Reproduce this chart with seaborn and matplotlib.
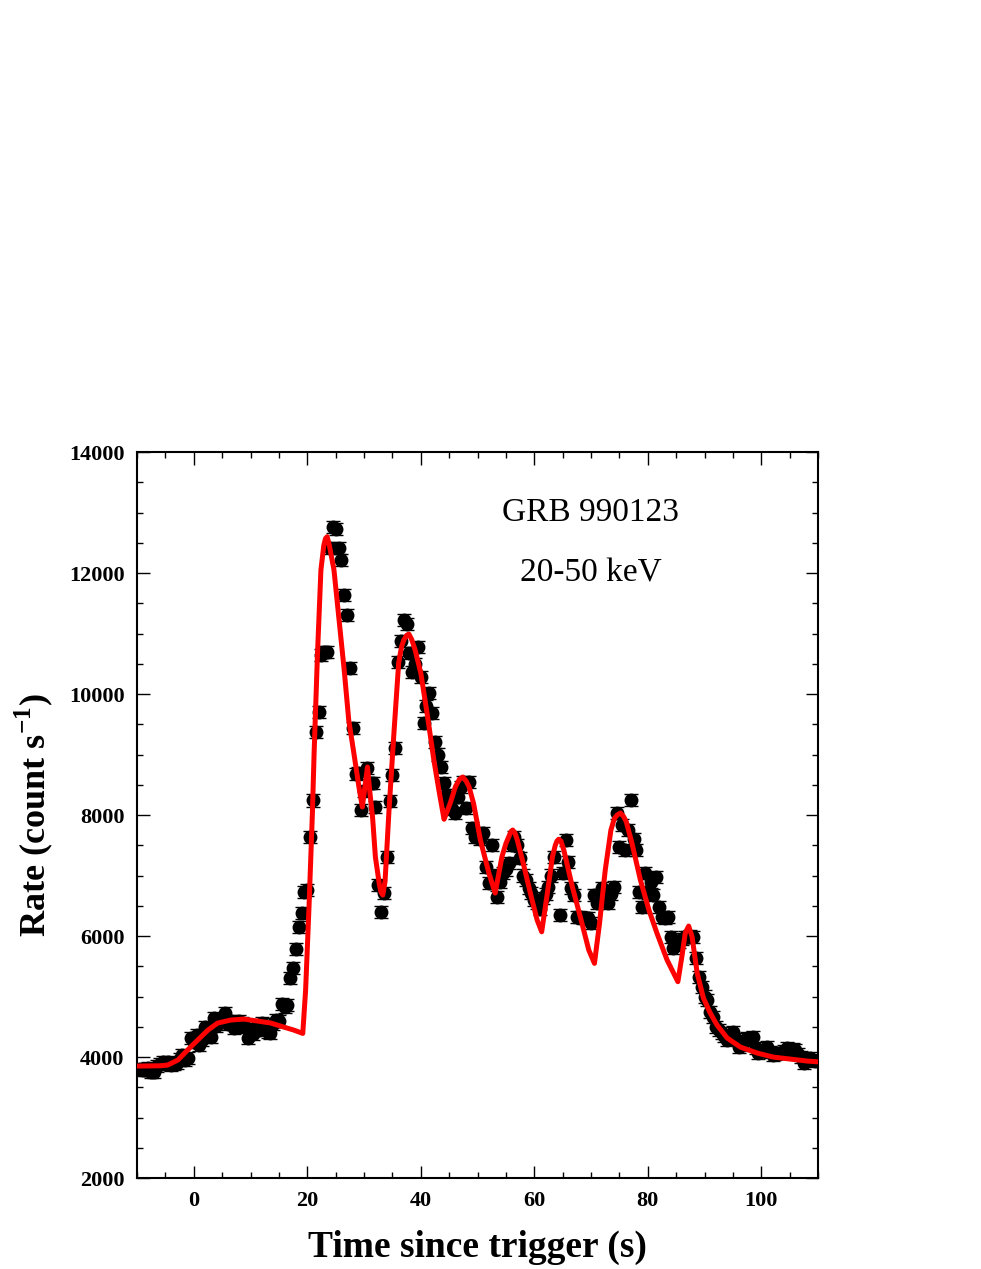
import matplotlib
matplotlib.use("Agg")
import matplotlib.pyplot as plt
import seaborn as sns
import pandas as pd
from matplotlib.ticker import MultipleLocator

# ---------------- data ----------------
TIME_S = [-9.5, -9.0, -8.5, -8.0, -7.5, -7.0, -6.5, -6.0, -5.5, -5.0, -4.5, -4.0, -3.5, -3.0,
          -2.5, -2.0, -1.5, -1.0, -0.5, 0.0, 0.5, 1.0, 1.5, 2.0, 2.5, 3.0, 3.5, 4.0, 4.5, 5.0,
          5.5, 6.0, 6.5, 7.0, 7.5, 8.0, 8.5, 9.0, 9.5, 10.0, 10.5, 11.0, 11.5, 12.0, 12.5, 13.0,
          13.5, 14.0, 14.5, 15.0, 15.5, 16.0, 16.5, 17.0, 17.5, 18.0, 18.5, 19.0, 19.5, 20.0,
          20.5, 21.0, 21.5, 22.0, 22.5, 23.0, 23.5, 24.0, 24.5, 25.0, 25.5, 26.0, 26.5, 27.0,
          27.5, 28.0, 28.5, 29.0, 29.5, 30.0, 30.5, 31.0, 31.5, 32.0, 32.5, 33.0, 33.5, 34.0,
          34.5, 35.0, 35.5, 36.0, 36.5, 37.0, 37.5, 38.0, 38.5, 39.0, 39.5, 40.0, 40.5, 41.0,
          41.5, 42.0, 42.5, 43.0, 43.5, 44.0, 44.5, 45.0, 45.5, 46.0, 46.5, 47.0, 47.5, 48.0,
          48.5, 49.0, 49.5, 50.0, 50.5, 51.0, 51.5, 52.0, 52.5, 53.0, 53.5, 54.0, 54.5, 55.0,
          55.5, 56.0, 56.5, 57.0, 57.5, 58.0, 58.5, 59.0, 59.5, 60.0, 60.5, 61.0, 61.5, 62.0,
          62.5, 63.0, 63.5, 64.5, 65.0, 65.5, 66.0, 66.5, 67.0, 67.5, 68.0, 68.5, 69.0, 69.5,
          70.0, 70.5, 71.0, 71.5, 72.0, 72.5, 73.0, 73.5, 74.0, 74.5, 75.0, 75.5, 76.0, 76.5,
          77.0, 77.5, 78.0, 78.5, 79.0, 79.5, 80.0, 80.5, 81.0, 81.5, 82.0, 82.5, 83.0, 83.5,
          84.0, 84.5, 85.0, 85.5, 86.0, 86.5, 87.0, 87.5, 88.0, 88.5, 89.0, 89.5, 90.0, 90.5,
          91.0, 91.5, 92.0, 92.5, 93.0, 93.5, 94.0, 94.5, 95.0, 95.5, 96.0, 96.5, 97.0, 97.5,
          98.0, 98.5, 99.0, 99.5, 100.0, 100.5, 101.0, 101.5, 102.0, 102.5, 103.0, 103.5, 104.0,
          104.5, 105.0, 105.5, 106.0, 106.5, 107.0, 107.5, 108.0, 108.5, 109.0, 109.5]

RATE = [3800, 3780, 3790, 3820, 3760, 3750, 3850, 3880, 3910, 3890, 3920, 3870, 3880, 3900,
        3960, 4030, 3950, 3980, 4310, 4250, 4360, 4200, 4280, 4490, 4400, 4330, 4640, 4520,
        4610, 4580, 4720, 4550, 4600, 4480, 4520, 4600, 4560, 4500, 4310, 4420, 4380, 4500,
        4450, 4560, 4520, 4420, 4400, 4540, 4610, 4600, 4880, 4820, 4860, 5300, 5470, 5780,
        6150, 6380, 6730, 6760, 7640, 8240, 9370, 9700, 10650, 10700, 10690, 12410, 12760,
        12730, 12410, 12210, 11640, 11300, 10430, 9440, 8680, 8690, 8080, 8400, 8780, 8530,
        8530, 8130, 6840, 6400, 6710, 7300, 8230, 8660, 9110, 10530, 10880, 11220, 11160,
        10680, 10360, 10500, 10780, 10280, 9520, 9800, 10020, 9690, 9210, 9000, 8800, 8530,
        8330, 8200, 8100, 8030, 8300, 8460, 8550, 8120, 8540, 7790, 7640, 7700, 7600, 7700,
        7140, 6880, 7500, 7000, 6640, 6900, 7040, 7100, 7210, 7500, 7640, 7500, 7290, 7000,
        6930, 6800, 6710, 6600, 6550, 6450, 6630, 6700, 6810, 7000, 7310, 6350, 7040, 7590,
        7220, 6790, 6680, 6310, 6310, 6300, 6300, 6300, 6210, 6680, 6550, 6600, 6790, 6650,
        6550, 6700, 6810, 8030, 7470, 7830, 7420, 7750, 8250, 7600, 7420, 6730, 6480, 7040,
        6710, 6900, 6680, 6980, 6480, 6310, 6300, 6310, 5980, 5800, 5850, 5900, 5950, 5980,
        5980, 6000, 5980, 5640, 5320, 5160, 5000, 4940, 4750, 4660, 4500, 4450, 4400, 4350,
        4280, 4350, 4410, 4300, 4170, 4200, 4250, 4310, 4300, 4330, 4150, 4070, 4100, 4120,
        4170, 4080, 4030, 4050, 4060, 4070, 4100, 4150, 4120, 4130, 4110, 4050, 4000, 3900,
        3950, 3980, 3950, 3930]

RATE_ERR = 100  # typical 1-sigma error (count/s)

MODEL_T = [-10.0, -6.0, -4.6, -2.8, -1.1, 0.7, 2.5, 4.2, 6.5, 8.8, 11.3, 13.6, 15.8, 17.6, 19.2,
           19.7, 20.3, 20.9, 21.2, 21.8, 22.4, 22.9, 23.2, 23.5, 23.9, 24.7, 25.6, 26.5, 27.3,
           28.2, 29.1, 29.7, 30.2, 30.6, 31.0, 31.5, 32.0, 32.7, 33.0, 33.3, 33.7, 34.4, 35.3,
           36.1, 36.6, 37.0, 37.5, 37.9, 38.4, 39.0, 40.0, 41.1, 42.3, 43.3, 44.1, 44.6, 45.2,
           46.1, 46.8, 47.4, 48.0, 48.5, 49.3, 50.5, 52.0, 53.1, 54.3, 55.0, 55.5, 55.9, 56.2,
           56.6, 57.0, 58.2, 59.3, 60.5, 61.3, 62.3, 63.2, 63.7, 64.0, 64.3, 64.7, 65.2, 66.7,
           68.1, 69.6, 70.6, 71.5, 72.5, 73.5, 74.1, 74.6, 75.2, 75.7, 76.2, 77.2, 78.7, 80.2,
           81.6, 83.4, 85.3, 86.0, 86.6, 87.2, 87.8, 88.7, 89.8, 91.0, 92.2, 94.0, 96.3, 99.3,
           102.1, 105.1, 108.1, 110.0]

MODEL_RATE = [3850, 3855, 3867, 3950, 4115, 4281, 4446, 4561, 4611, 4627, 4594, 4561, 4496, 4446,
              4390, 5100, 6480, 8033, 9025, 10677, 12050, 12450, 12570, 12600, 12450, 12050,
              11223, 10397, 9570, 9025, 8463, 8132, 8500, 8793, 8400, 7967, 7305, 6850, 6720,
              6677, 6900, 8082, 9405, 10512, 10780, 10892, 10970, 10991, 10900, 10727, 10347,
              9686, 8909, 8350, 7930, 8050, 8200, 8467, 8590, 8628, 8560, 8467, 8190, 7587, 7040,
              6710, 7311, 7530, 7641, 7730, 7752, 7700, 7587, 7145, 6710, 6264, 6070, 6710, 7311,
              7500, 7570, 7600, 7570, 7421, 6815, 6319, 5768, 5548, 6215, 7090, 7752, 7940, 8000,
              8033, 7980, 7890, 7537, 6925, 6429, 6050, 5603, 5245, 5657, 6050, 6165, 5987, 5388,
              4975, 4727, 4528, 4313, 4165, 4065, 3999, 3966, 3933, 3920]

LABEL_TEXT = ["GRB 990123", "20-50 keV"]
LABEL_POS_T = [69.9, 69.9]
LABEL_POS_RATE = [13000, 12000]

# ---------------- style ----------------
sns.set_theme(style="ticks")
plt.rcParams["font.family"] = ["Liberation Serif", "DejaVu Serif"]
plt.rcParams["mathtext.fontset"] = "custom"
plt.rcParams["mathtext.rm"] = "Liberation Serif"
plt.rcParams["mathtext.bf"] = "Liberation Serif:bold"
for key in ["text.color", "axes.labelcolor", "xtick.color", "ytick.color", "axes.edgecolor"]:
    plt.rcParams[key] = "black"

df = pd.DataFrame({"t": TIME_S, "rate": RATE})
model = pd.DataFrame({"t": MODEL_T, "rate": MODEL_RATE})

fig = plt.figure(figsize=(9.81, 12.69), dpi=100)
ax = fig.add_axes([0.1397, 0.0717, 0.6942, 0.5721])

ax.errorbar(df["t"], df["rate"], yerr=RATE_ERR, fmt="none", ecolor="black",
            elinewidth=1.0, capsize=5, capthick=1.0, zorder=2)
sns.scatterplot(data=df, x="t", y="rate", ax=ax, color="black", s=100,
                edgecolor="black", linewidth=0, zorder=3, legend=False)
sns.lineplot(data=model, x="t", y="rate", ax=ax, color="#ff0000", linewidth=3.6,
             estimator=None, sort=False, zorder=4)

ax.set_xlim(-10, 110)
ax.set_ylim(2000, 14000)
ax.xaxis.set_major_locator(MultipleLocator(20))
ax.xaxis.set_minor_locator(MultipleLocator(5))
ax.yaxis.set_major_locator(MultipleLocator(2000))
ax.yaxis.set_minor_locator(MultipleLocator(500))

ax.tick_params(which="both", direction="in", top=True, right=True, color="black")
ax.tick_params(which="major", length=9, width=1.0, labelsize=16, pad=9)
ax.tick_params(which="minor", length=4.5, width=1.0)
for lab in ax.get_xticklabels() + ax.get_yticklabels():
    lab.set_fontweight("bold")
for sp in ax.spines.values():
    sp.set_linewidth(1.5)
    sp.set_color("black")

ax.set_xlabel("Time since trigger (s)", fontsize=27, fontweight="bold", labelpad=14)
ax.set_ylabel(r"Rate (count s$^{\mathbf{-1}}$)", fontsize=26, fontweight="bold", labelpad=10)

for txt, tx, ty in zip(LABEL_TEXT, LABEL_POS_T, LABEL_POS_RATE):
    ax.text(tx, ty, txt, fontsize=24, ha="center", va="center", color="black")

fig.savefig("out.png", dpi=100, facecolor="white")
